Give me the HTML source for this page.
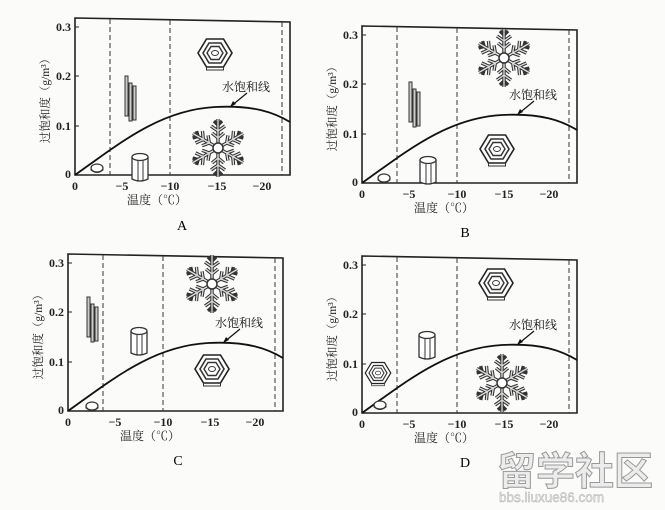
<!DOCTYPE html>
<html><head><meta charset="utf-8"><style>
html,body{margin:0;padding:0;background:#fbfbfa;}
svg{display:block;font-family:"Liberation Serif","Noto Serif CJK SC",serif;}
</style></head><body>
<svg width="665" height="510" viewBox="0 0 665 510" xmlns="http://www.w3.org/2000/svg">
<defs>
<g id="hex">
 <polygon points="-17,0 -8.5,-14 8.5,-14 17,0 8.5,14 -8.5,14" fill="#fff" stroke="#222" stroke-width="1.6"/>
 <polygon points="-12,0 -6,-10 6,-10 12,0 6,10 -6,10" fill="none" stroke="#333" stroke-width="1.6"/>
 <polygon points="-8,0 -4,-6.5 4,-6.5 8,0 4,6.5 -4,6.5" fill="none" stroke="#333" stroke-width="1.4"/>
 <ellipse cx="0" cy="0" rx="3.5" ry="2.5" fill="none" stroke="#333"/>
 <path d="M-8.5,14 L-8.5,17 L8.5,17 L8.5,14" fill="none" stroke="#333"/>
</g>
<g id="arm">
 <path d="M0,-5 L0,-29 M0,-10 L-6,-15 M0,-10 L6,-15 M0,-17 L-7,-22 M0,-17 L7,-22 M0,-23 L-4,-27 M0,-23 L4,-27" stroke="#333" stroke-width="3.4" fill="none"/>
 <path d="M0,-5 L0,-29 M0,-10 L-6,-15 M0,-10 L6,-15 M0,-17 L-7,-22 M0,-17 L7,-22" stroke="#ddd" stroke-width="1.3" fill="none"/>
</g>
<g id="flake">
 <use href="#arm"/><use href="#arm" transform="rotate(60)"/><use href="#arm" transform="rotate(120)"/>
 <use href="#arm" transform="rotate(180)"/><use href="#arm" transform="rotate(240)"/><use href="#arm" transform="rotate(300)"/>
 <circle r="5" fill="#fff" stroke="#333" stroke-width="1.5"/>
</g>
<g id="col">
 <path d="M-8,-11 L-8,11 Q0,15 8,11 L8,-11" fill="#fff" stroke="#333" stroke-width="1.3"/>
 <ellipse cx="0" cy="-11" rx="8" ry="3.5" fill="#fff" stroke="#333" stroke-width="1.3"/>
 <line x1="-2" y1="-7" x2="-2" y2="13" stroke="#333"/><line x1="3" y1="-7" x2="3" y2="13" stroke="#333"/>
</g>
<g id="needle">
 <rect x="-5" y="-22" width="3" height="40" fill="#ccc" stroke="#333"/>
 <rect x="-1" y="-15" width="3" height="38" fill="#ccc" stroke="#333"/>
 <rect x="3" y="-12" width="3" height="34" fill="#ccc" stroke="#333"/>
</g>
<g id="disk">
 <ellipse cx="0" cy="0" rx="6" ry="4" fill="#fff" stroke="#333" stroke-width="1.2"/>
 <path d="M-6,0 L-6,2 Q0,7 6,2 L6,0" fill="none" stroke="#333"/>
</g>
<g id="frame">
 <path d="M0,0 L215,4 L215,157 L0,157 Z" fill="none" stroke="#222" stroke-width="1.6"/>
 <g stroke="#333" stroke-width="1" stroke-dasharray="5,3">
  <line x1="35" y1="1" x2="35" y2="157"/><line x1="95" y1="2" x2="95" y2="157"/><line x1="207" y1="4" x2="207" y2="157"/>
 </g>
 <path d="M0,157 C45,125 85,92 140,89 C180,87 200,95 215,104" fill="none" stroke="#111" stroke-width="1.8"/>
 <line x1="172" y1="75" x2="155" y2="89" stroke="#111" stroke-width="1.2"/>
 <polygon points="155,89 158,83 161,86" fill="#111"/>
 <g stroke="#222"><line x1="0" y1="9" x2="4" y2="9"/><line x1="0" y1="58" x2="4" y2="58"/><line x1="0" y1="108" x2="4" y2="108"/></g>
 <g font-size="12" fill="#222" font-weight="bold">
  <text x="-4" y="13" text-anchor="end">0.3</text>
  <text x="-4" y="62" text-anchor="end">0.2</text>
  <text x="-4" y="112" text-anchor="end">0.1</text>
  <text x="-4" y="160" text-anchor="end">0</text>
  <text x="0" y="172" text-anchor="middle">0</text>
  <text x="47" y="172" text-anchor="middle">−5</text>
  <text x="95" y="172" text-anchor="middle">−10</text>
  <text x="142" y="172" text-anchor="middle">−15</text>
  <text x="187" y="172" text-anchor="middle">−20</text>
 </g>
 <text x="147" y="73" font-size="12" fill="#111">水饱和线</text>
 <text x="82" y="186" font-size="12" fill="#222" text-anchor="middle">温度（℃）</text>
 <text transform="translate(-26,80) rotate(-90)" font-size="11.5" fill="#222" text-anchor="middle">过饱和度（g/m³）</text>
</g>
</defs>

<g transform="translate(75,18)">
 <use href="#frame"/>
 <use href="#hex" x="140" y="35"/>
 <use href="#flake" x="143" y="130"/>
 <use href="#col" x="65" y="150"/>
 <use href="#needle" x="55" y="80"/>
 <use href="#disk" x="22" y="150"/>
</g>
<text x="182" y="230" font-size="14" text-anchor="middle" font-family="Liberation Serif,serif">A</text>

<g transform="translate(362,26)">
 <use href="#frame"/>
 <use href="#flake" x="142" y="32"/>
 <use href="#hex" x="135" y="123"/>
 <use href="#col" x="66" y="145"/>
 <use href="#needle" x="52" y="78"/>
 <use href="#disk" x="22" y="152"/>
</g>
<text x="465" y="237" font-size="14" text-anchor="middle" font-family="Liberation Serif,serif">B</text>

<g transform="translate(68,254)">
 <use href="#frame"/>
 <use href="#flake" x="144" y="30"/>
 <use href="#hex" x="144" y="115"/>
 <use href="#col" x="71" y="88"/>
 <use href="#needle" x="24" y="65"/>
 <use href="#disk" x="24" y="152"/>
</g>
<text x="178" y="465" font-size="14" text-anchor="middle" font-family="Liberation Serif,serif">C</text>

<g transform="translate(362,256)">
 <use href="#frame"/>
 <use href="#hex" x="134" y="27"/>
 <use href="#flake" x="140" y="127"/>
 <use href="#col" x="65" y="90"/>
 <use href="#hex" x="16" y="117" transform="translate(16,117) scale(0.75) translate(-16,-117)"/>
 <use href="#disk" x="18" y="149"/>
</g>
<text x="465" y="467" font-size="14" text-anchor="middle" font-family="Liberation Serif,serif">D</text>

<text x="497" y="485" font-size="39" fill="#ececec" stroke="#999" stroke-width="1" font-family="Noto Sans CJK SC,sans-serif" font-weight="bold">留学社区</text>
<text x="499" y="502" font-size="13.5" fill="#e4e4e4" stroke="#aaa" stroke-width="0.4" font-family="Liberation Sans,sans-serif">bbs.liuxue86.com</text>
</svg>
</body></html>
